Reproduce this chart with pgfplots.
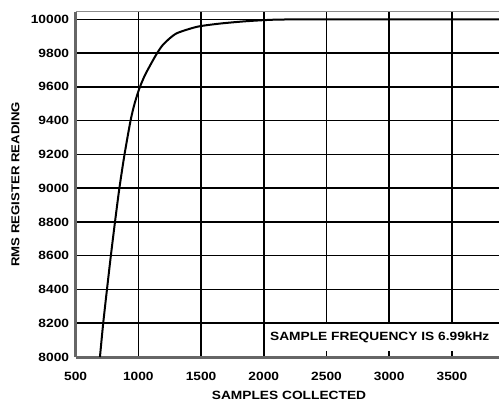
\documentclass[border=0pt]{standalone}
\usepackage{fontspec}
\setmainfont{Liberation Sans}[FakeStretch=1.15]
\usepackage{pgfplots}
\pgfplotsset{compat=1.18}
\begin{document}
\begin{tikzpicture}[x=1bp,y=1bp]
\path[use as bounding box] (-75.6,-46) rectangle (423.4,357);
\begin{axis}[
    at={(0,0)}, anchor=south west,
    scale only axis,
    width=423.4bp, height=345.3bp,
    xmin=500, xmax=3875,
    ymin=8000, ymax=10045,
    xtick={500,1000,...,3500},
    ytick={8000,8200,...,10000},
    scaled ticks=false,
    axis x line*=bottom, axis y line*=left,
    axis line style={line width=3bp, black!60},
    major tick length=0pt,
    grid=major,
    major grid style={black, line width=1.5bp},
    /pgf/number format/1000 sep={},
    /pgf/number format/assume math mode=true,
    tick label style={font=\fontsize{12}{12}\selectfont\bfseries},
    xticklabel style={yshift=-12bp},
    yticklabel style={xshift=-3bp},
    xlabel={SAMPLES COLLECTED},
    ylabel={RMS REGISTER READING},
    xlabel style={font=\fontsize{12}{12}\selectfont\bfseries,
        at={(axis description cs:0.504,-0.11)}, anchor=center},
    ylabel style={font=\fontsize{11.5}{12}\selectfont\bfseries,
        at={(axis description cs:-0.142,0.5)}, anchor=center},
    clip=false,
]
\addplot[black, line width=2bp, smooth, tension=0.4] coordinates {
(694,8000) (720,8200) (750,8400) (781,8600) (814,8800) (849,9000)
(890,9200) (938,9400) (970,9500) (1008,9590) (1050,9665) (1100,9735)
(1150,9800) (1200,9852) (1300,9915) (1470,9956) (1655,9975)
(1868,9989) (2100,9998) (2500,10000) (3875,10000)
};
\draw[black!45, line width=1.5bp] (rel axis cs:0,1) -- (rel axis cs:1,1);
\node[fill=white, anchor=west, inner xsep=3bp, minimum height=27bp,
      font=\fontsize{12}{12}\selectfont\bfseries]
      at (axis cs:2025,8118) {SAMPLE FREQUENCY IS 6.99kHz};
\end{axis}
\end{tikzpicture}
\end{document}
